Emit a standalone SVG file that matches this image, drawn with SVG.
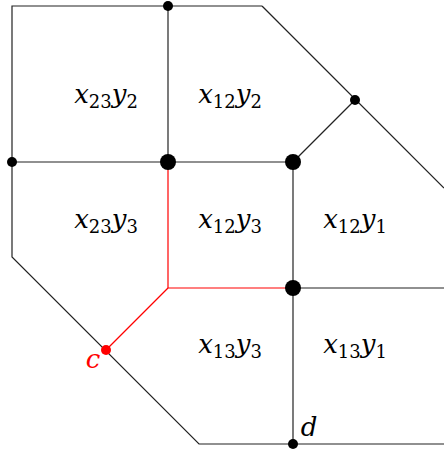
<svg xmlns="http://www.w3.org/2000/svg" width="444" height="450" viewBox="0 0 444 450">
<style>
.e{stroke:#222;stroke-width:1.2;fill:none}
.r{stroke:#f00;stroke-width:1.2;fill:none}
text{font-family:'DejaVu Serif',serif;font-size:26px;fill:#000;text-anchor:middle}
.v{font-style:italic}
.s{font-size:18px;font-style:normal}
</style>
<rect width="444" height="450" fill="#fff"/>
<g id="connectors">
<polyline class="e" points="262,6 12,6 12,257 199,444 444,444"/>
<line class="e" x1="262" y1="6" x2="444" y2="188"/>
<line class="e" x1="168" y1="6" x2="168" y2="162"/>
<line class="e" x1="12" y1="162" x2="293" y2="162"/>
<line class="e" x1="293" y1="162" x2="355" y2="100"/>
<line class="e" x1="293" y1="162" x2="293" y2="444"/>
<line class="e" x1="293" y1="288" x2="444" y2="288"/>
<polyline class="r" points="168,162 168,288 293,288"/>
<line class="r" x1="168" y1="288" x2="106" y2="350"/>
</g>
<g id="n1"><circle cx="168" cy="6" r="5"/></g>
<g id="n2"><circle cx="12" cy="162" r="5"/></g>
<g id="n3"><circle cx="355" cy="100" r="5"/></g>
<g id="n4"><circle cx="168" cy="162" r="8"/></g>
<g id="n5"><circle cx="293" cy="162" r="8"/></g>
<g id="n6"><circle cx="293" cy="288" r="8"/></g>
<g id="n7"><circle cx="293" cy="444" r="5"/><text class="v" x="309" y="436">d</text></g>
<g id="c"><circle cx="106" cy="350" r="5" fill="#f00"/><text class="v" x="93" y="368" style="fill:#f00">c</text></g>
<g id="labels">
<text x="106" y="103"><tspan class="v">x</tspan><tspan class="s" dy="5">23</tspan><tspan class="v" dy="-5">y</tspan><tspan class="s" dy="5">2</tspan></text>
<text x="230" y="103"><tspan class="v">x</tspan><tspan class="s" dy="5">12</tspan><tspan class="v" dy="-5">y</tspan><tspan class="s" dy="5">2</tspan></text>
<text x="106" y="228"><tspan class="v">x</tspan><tspan class="s" dy="5">23</tspan><tspan class="v" dy="-5">y</tspan><tspan class="s" dy="5">3</tspan></text>
<text x="230" y="228"><tspan class="v">x</tspan><tspan class="s" dy="5">12</tspan><tspan class="v" dy="-5">y</tspan><tspan class="s" dy="5">3</tspan></text>
<text x="355" y="228"><tspan class="v">x</tspan><tspan class="s" dy="5">12</tspan><tspan class="v" dy="-5">y</tspan><tspan class="s" dy="5">1</tspan></text>
<text x="230" y="353"><tspan class="v">x</tspan><tspan class="s" dy="5">13</tspan><tspan class="v" dy="-5">y</tspan><tspan class="s" dy="5">3</tspan></text>
<text x="355" y="353"><tspan class="v">x</tspan><tspan class="s" dy="5">13</tspan><tspan class="v" dy="-5">y</tspan><tspan class="s" dy="5">1</tspan></text>
</g>
</svg>
